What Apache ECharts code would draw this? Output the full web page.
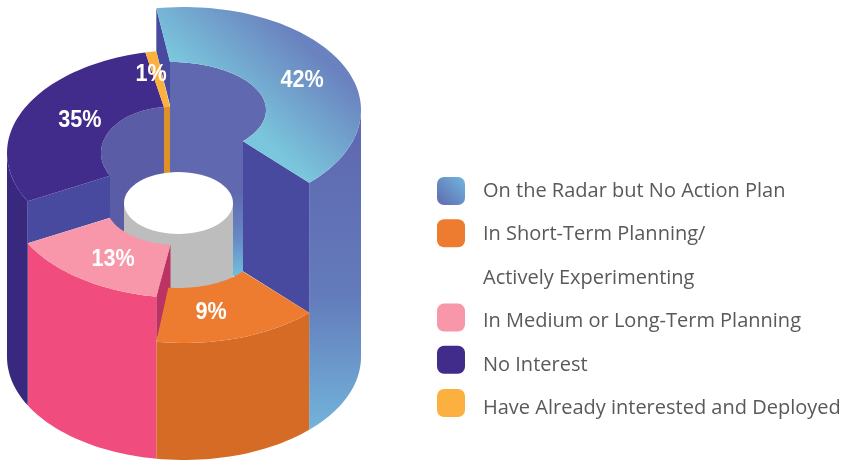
<!DOCTYPE html>
<html>
<head>
<meta charset="utf-8">
<style>
  html, body { margin: 0; padding: 0; background: #fff; }
  #chart { width: 851px; height: 461px; }
</style>
<script src="https://cdn.jsdelivr.net/npm/echarts@6/dist/echarts.min.js"></script>
</head>
<body>
<div id="chart"></div>
<script>
// values
const sliceNames = [
  "On the Radar but No Action Plan",
  "In Short-Term Planning/",
  "In Medium or Long-Term Planning",
  "No Interest",
  "Have Already interested and Deployed",
];
const sharePercent = [42, 9, 13, 35, 1];
// the drawing does not give slices their true share of the circle, so the sweep is read separately
const sweepDegrees = [144, 54, 53, 105.4, 3.6];
const wallHeights = [247, 117, 162, 204, 204];

// cylinder geometry
const CX = 184, RX = 177, RY = 103, BASE_CY = 357, FIRST_ANGLE = -9;
const innerCx = [170, 178, 178, 170, 170];
const innerOffset = [0, 8, 10, 0, 0];
const innerRx = [96, 80, 72, 69, 69];
const innerRy = [48, 40, 40, 46, 46];
const innerAngles = [[0, 130.5], [126, 187], [186, 251], [240.4, 355], [355, 360]];
const innerDrop = [145, 0, 0, 85, 70];
const labelAngle = [65, 167.3, 213.7, 300, 346.7];
const labelRadius = [0.736, 0.697, 0.723, 0.679, 0.808];
// legend text runs a little wider apart than the swatches
const legendTextShift = [0, 1, 3, 4, 5, 5];

// colours
const glob = echarts.graphic;
const topColors = [
  new glob.LinearGradient(170, 55, 237, -19, [
    { offset: 0, color: "#7AC6DC" },
    { offset: 1, color: "#6A82BF" },
  ], true),
  "#EE7C30", "#F797A9", "#412C8B", "#FBB040",
];
const outerColors = [
  new glob.LinearGradient(0, 130, 0, 430, [
    { offset: 0, color: "#5F68B0" },
    { offset: 0.55, color: "#637BBB" },
    { offset: 1, color: "#72B4DA" },
  ], true),
  "#D66B25", "#F14C7E", "#38297F", "#38297F",
];
const innerColors = [
  new glob.LinearGradient(0, 60, 0, 276, [
    { offset: 0, color: "#6069B0" },
    { offset: 0.62, color: "#6069B0" },
    { offset: 0.82, color: "#6789C4" },
    { offset: 1, color: "#72BFDE" },
  ], true),
  "#6069B0", "#6069B0", "#5B5CA6", "#DE9126",
];
const cutColors = ["#474A9F", "#D66B25", "#BB3263", "#474A9F", "#DE9126"];
const legendColors = [
  new glob.LinearGradient(0, 1, 1, 0, [
    { offset: 0, color: "#6069B0" },
    { offset: 1, color: "#70B6DC" },
  ]),
  "#EE7C30", "#F797A9", "#412C8B", "#FBB040",
];

function rad(a) {
  return (a * Math.PI) / 180;
}

function onEllipse(e, a) {
  return [e.cx + e.rx * Math.sin(rad(a)), e.cy - e.ry * Math.cos(rad(a))];
}

function arc(e, from, to) {
  const steps = Math.max(2, Math.ceil(Math.abs(to - from) / 2));
  const pts = [];
  for (let i = 0; i <= steps; i++) {
    pts.push(onEllipse(e, from + ((to - from) * i) / steps));
  }
  return pts;
}

function poly(points, fill, z2) {
  return { type: "polygon", z2: z2, shape: { points: points }, style: { fill: fill } };
}

function shifted(pt, drop) {
  return [pt[0], pt[1] + drop];
}

// start and end angle of slice i on the outer rim, from the sweeps
function rimAngles(i) {
  let start = FIRST_ANGLE;
  for (let k = 0; k < i; k++) start += sweepDegrees[k];
  return [start, start + sweepDegrees[i]];
}

function renderSlice(i, params, api) {
  const n = sliceNames.length;
  const height = api.value(1);
  const cy = BASE_CY - height;
  const outer = { cx: CX, cy: cy, rx: RX, ry: RY };
  const inner = { cx: innerCx[i], cy: cy + innerOffset[i], rx: innerRx[i], ry: innerRy[i] };
  const [start, end] = rimAngles(i);
  const [inStart, inEnd] = innerAngles[i];
  const children = [];

  // outer wall, only the part facing the viewer
  const wallFrom = Math.max(start, 90);
  const wallTo = Math.min(end, 270);
  if (wallTo > wallFrom) {
    const base = { cx: CX, cy: BASE_CY, rx: RX, ry: RY };
    children.push(poly(arc(outer, wallFrom, wallTo).concat(arc(base, wallTo, wallFrom)), outerColors[i], 5));
  }

  // wall of the inner hole
  if (innerDrop[i] > 0) {
    const top = arc(inner, inStart, inEnd);
    const lower = [shifted(top[top.length - 1], innerDrop[i]), shifted(top[0], innerDrop[i])];
    children.push(poly(top.concat(lower), innerColors[i], 10));
  }

  // cut faces down to a lower neighbour
  const prevDrop = wallHeights[i] - wallHeights[(i + n - 1) % n];
  const nextDrop = wallHeights[i] - wallHeights[(i + 1) % n];
  if (prevDrop > 0) {
    const a = onEllipse(outer, start), b = onEllipse(inner, inStart);
    children.push(poly([a, b, shifted(b, prevDrop), shifted(a, prevDrop)], cutColors[i], 30));
  }
  if (nextDrop > 0) {
    const a = onEllipse(outer, end), b = onEllipse(inner, inEnd);
    children.push(poly([a, b, shifted(b, nextDrop), shifted(a, nextDrop)], cutColors[i], 30));
  }

  // top face
  children.push(poly(arc(outer, start, end).concat(arc(inner, inEnd, inStart)), topColors[i], 40));

  // percent label, squeezed a little since no narrow bold font is installed
  const at = onEllipse(
    { cx: CX, cy: cy + 2, rx: RX * labelRadius[i], ry: RY * labelRadius[i] },
    labelAngle[i]
  );
  children.push({
    type: "text",
    z2: 50,
    x: at[0],
    y: at[1],
    scaleX: 0.9,
    style: {
      text: api.value(0) + "%",
      fill: "#fff",
      font: 'bold 24px "Liberation Sans"',
      textAlign: "center",
      textVerticalAlign: "middle",
    },
  });
  return { type: "group", children: children };
}

function renderHole() {
  return {
    type: "group",
    children: [
      { type: "rect", z2: 20, shape: { x: 124, y: 203, width: 109, height: 87 }, style: { fill: "#BDBDBD" } },
      { type: "ellipse", z2: 21, shape: { cx: 178.5, cy: 203, rx: 54.5, ry: 31 }, style: { fill: "#fff" } },
    ],
  };
}

const series = sliceNames.map((name, i) => ({
  type: "custom",
  name: name,
  coordinateSystem: "none",
  silent: true,
  clip: false,
  renderItem: (params, api) => renderSlice(i, params, api),
  data: [[sharePercent[i], wallHeights[i]]],
}));
series.push({
  type: "custom",
  name: "hole",
  coordinateSystem: "none",
  silent: true,
  renderItem: renderHole,
  data: [[0]],
});
// second line of the orange legend entry, it has no swatch
series.push({
  type: "custom",
  name: "Actively Experimenting",
  coordinateSystem: "none",
  renderItem: () => null,
  data: [],
});

const legendRows = [
  { name: sliceNames[0], itemStyle: { color: legendColors[0] } },
  { name: sliceNames[1], itemStyle: { color: legendColors[1] } },
  { name: "Actively Experimenting", itemStyle: { color: "rgba(0,0,0,0)" } },
  { name: sliceNames[2], itemStyle: { color: legendColors[2] } },
  { name: sliceNames[3], itemStyle: { color: legendColors[3] } },
  { name: sliceNames[4], itemStyle: { color: legendColors[4] } },
];

const legendRich = {};
legendTextShift.forEach((d, i) => {
  legendRich["r" + i] = {
    fontFamily: "Open Sans",
    fontSize: 20,
    color: "#58595B",
    padding: [d * 2, 0, 0, 13],
  };
});

const chart = echarts.init(document.getElementById("chart"));
chart.setOption({
  animation: false,
  backgroundColor: "#fff",
  tooltip: { show: false },
  legend: {
    orient: "vertical",
    left: 437,
    top: 177,
    padding: 0,
    itemWidth: 28,
    itemHeight: 28,
    itemGap: 14.2,
    icon: "roundRect",
    selectedMode: false,
    formatter: (name) => {
      const row = legendRows.findIndex((r) => r.name === name);
      return "{r" + row + "|" + name + "}";
    },
    textStyle: { rich: legendRich },
    data: legendRows,
  },
  series: series,
});
</script>
</body>
</html>
